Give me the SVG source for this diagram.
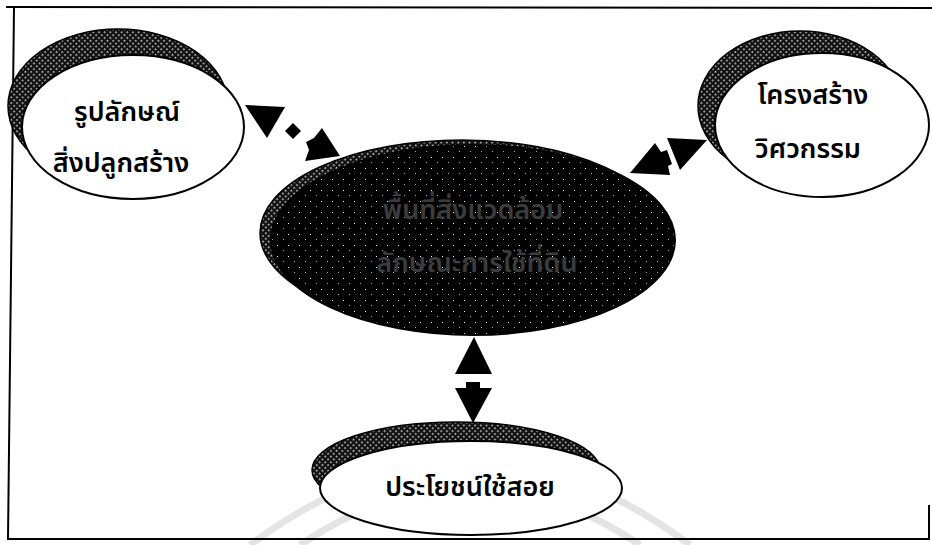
<svg xmlns="http://www.w3.org/2000/svg" width="932" height="545" viewBox="0 0 932 545">
  <defs>
    <pattern id="hatch" width="4" height="4" patternUnits="userSpaceOnUse" patternTransform="rotate(45)">
      <rect width="4" height="4" fill="#111"/>
      <rect x="0" y="0" width="1.6" height="1.6" fill="#cfcfcf"/>
    </pattern>
    <pattern id="dots" width="11" height="11" patternUnits="userSpaceOnUse">
      <rect width="11" height="11" fill="#030303"/>
      <rect x="2" y="3" width="1" height="1" fill="#ffffff"/>
      <rect x="8" y="8" width="1" height="1" fill="#aaaaaa"/>
    </pattern>
    <style>
      .shadow { fill: url(#hatch); stroke: #000; stroke-width: 1.5; }
      .node { fill: #fff; stroke: #000; stroke-width: 2; }
      .label { font-family: "Noto Sans Thai", "Noto Sans", "DejaVu Sans", sans-serif; font-size: 27px; font-weight: 600; fill: #000; text-anchor: middle; }
      .dark { fill: #3c3c3c; }
      .head { fill: #000; }
      .frame { fill: none; stroke: #000; stroke-width: 2; }
    </style>
  </defs>
  <rect width="932" height="545" fill="#fff"/>
  <!-- faint watermark arcs -->
  <g fill="none" stroke="#e4e4e4" stroke-width="7">
    <path d="M 250 545 Q 470 380 690 545"/>
    <path d="M 300 545 Q 470 430 640 545"/>
  </g>
  <!-- frame -->
  <g id="frame">
    <path class="frame" d="M 6 7 L 932 8"/>
    <path class="frame" d="M 14 7 L 8 539 L 930 539"/>
    <path class="frame" d="M 929 505 L 929 539"/>
  </g>
  <g id="connectors">
    <!-- left double arrow -->
    <polygon class="head" points="245,105 285,107 267,138"/>
    <polygon class="head" points="293,123 301,131 293,139 285,131"/>
    <polygon class="head" points="322,128 340,156 305,161 309,150 306,142 314,138"/>
    <!-- right double arrow -->
    <polygon class="head" points="655,143 661,152 667,150 672,164 668,166 670,175 630,173"/>
    <polygon class="head" points="667,138 707,140 680,170"/>
    <!-- bottom double arrow -->
    <polygon class="head" points="474,337 492,374 455,374"/>
    <polygon class="head" points="466,382 480,382 480,388 492,388 473,423 455,388 466,388"/>
  </g>
  <g id="node-form">
    <ellipse class="shadow" cx="118" cy="106" rx="110" ry="77"/>
    <ellipse class="node" cx="133" cy="127" rx="111" ry="72"/>
    <text class="label" x="127" y="121">รูปลักษณ์</text>
    <text class="label" x="121" y="172">สิ่งปลูกสร้าง</text>
  </g>
  <g id="node-structure">
    <ellipse class="shadow" cx="800" cy="106" rx="102" ry="75"/>
    <ellipse class="node" cx="822" cy="125" rx="107" ry="72"/>
    <text class="label" x="813" y="104">โครงสร้าง</text>
    <text class="label" x="808" y="158">วิศวกรรม</text>
  </g>
  <g id="node-center">
    <ellipse class="shadow" cx="462" cy="233" rx="202" ry="93"/>
    <ellipse cx="473" cy="240" rx="202" ry="95" fill="url(#dots)" stroke="#000" stroke-width="2"/>
    <text class="label dark" x="473" y="219">พื้นที่สิ่งแวดล้อม</text>
    <text class="label dark" x="477" y="272">ลักษณะการใช้ที่ดิน</text>
  </g>
  <g id="node-function">
    <ellipse class="shadow" cx="456" cy="470" rx="144" ry="48"/>
    <ellipse class="node" cx="471" cy="488" rx="151" ry="47"/>
    <text class="label" x="470" y="496">ประโยชน์ใช้สอย</text>
  </g>
</svg>
